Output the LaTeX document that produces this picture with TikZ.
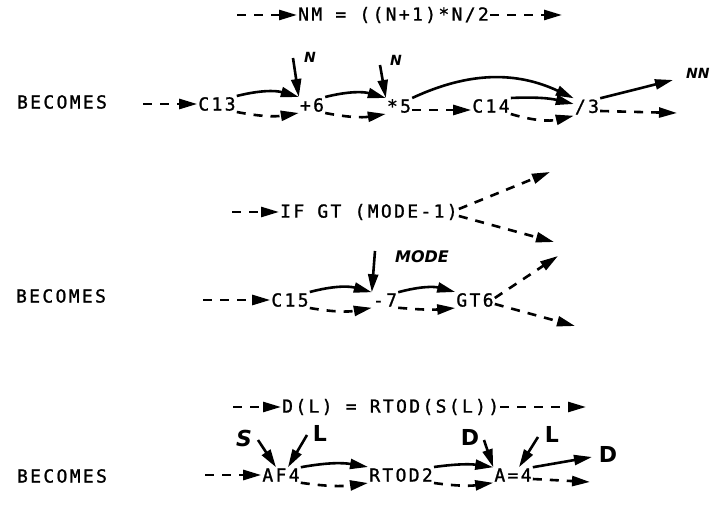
\documentclass[tikz,border=0pt]{standalone}
\usepackage{fontspec}
\newfontfamily\plot[LetterSpace=13,FakeBold=1.2]{DejaVu Sans Mono}
\newfontfamily\hand{DejaVu Sans}
\usetikzlibrary{arrows.meta}
\tikzset{
  txt/.style={font=\plot\fontsize{18}{18}\selectfont, inner sep=1pt},
  hw/.style={font=\hand\bfseries\fontsize{22}{22}\selectfont, inner sep=0pt},
  hwi/.style={font=\hand\bfseries\itshape\fontsize{22}{22}\selectfont, inner sep=0pt},
  hwm/.style={font=\hand\bfseries\itshape\fontsize{16}{16}\selectfont, inner sep=0pt},
  hws/.style={font=\hand\bfseries\itshape\fontsize{14}{14}\selectfont, inner sep=0pt},
  sol/.style={line width=2.6pt, -{Triangle[length=18pt,width=10pt]}},
  dsh/.style={sol, dash pattern=on 9pt off 8pt},
}
\begin{document}
\begin{tikzpicture}[x=1pt,y=1pt]
\useasboundingbox (0,0) rectangle (718,509);
% ---------- statement 1
\coordinate (a1) at (237,494);
\node[txt,anchor=west] (t1) at (297,494) {NM = ((N+1)*N/2};
\coordinate (b1) at (562,494);
\draw[dsh] (a1) -- (t1.west);
\draw[dsh] (t1.east) -- (b1);
% ---------- becomes 1
\node[txt] (be1) at (62,407) {BECOMES};
\coordinate (r1) at (143,405);
\node[txt] (c13) at (217,405) {C13};
\node[txt] (p6) at (312,404) {+6};
\node[txt] (s5) at (399,403) {*5};
\node[txt] (c14) at (491,403) {C14};
\node[txt] (d3) at (587,402) {/3};
\node[hws] (n1) at (310,452) {N};
\node[hws] (n2) at (396,449) {N};
\node[hws,anchor=west] (nn) at (686,436) {NN};
\coordinate (n1a) at (293,451);
\coordinate (n2a) at (380,444);
\coordinate (nnA) at (673,429);
\coordinate (d3o) at (677,396);
\draw[dsh] (r1) -- (c13.west);
\draw[sol] (c13.north east) to[bend left=15] (p6.north west);
\draw[dsh] (c13.south east) to[bend right=10] (p6.south west);
\draw[sol] (n1a) -- (p6.north west);
\draw[sol] (p6.north east) to[bend left=15] (s5.north west);
\draw[dsh] (p6.south east) to[bend right=10] (s5.south west);
\draw[sol] (n2a) -- (s5.north west);
\draw[sol] (s5.north east) to[bend left=25] (d3.north west);
\draw[dsh] ([yshift=-4pt]s5.east) -- ([yshift=-4pt]c14.west);
\draw[sol] (c14.north east) to[bend left=8] ([yshift=3pt]d3.west);
\draw[dsh] (c14.south east) to[bend right=15] (d3.south west);
\draw[sol] (d3.north east) -- (nnA);
\draw[dsh] ([yshift=-4pt]d3.east) -- (d3o);
% ---------- statement 2
\coordinate (a2) at (232,297);
\node[txt,anchor=west] (t2) at (279,297) {IF GT (MODE-1)};
\coordinate (u2) at (550,337);
\coordinate (l2) at (554,267);
\draw[dsh] (a2) -- (t2.west);
\draw[dsh] ([yshift=3pt]t2.east) -- (u2);
\draw[dsh] ([yshift=-4pt]t2.east) -- (l2);
% ---------- becomes 2
\node[txt] (be2) at (61,213) {BECOMES};
\coordinate (r2) at (203,209);
\node[txt] (c15) at (290,209) {C15};
\node[txt] (m7) at (385,209) {-7};
\node[txt] (gt6) at (475,209) {GT6};
\node[hwm] (mode) at (422,252) {MODE};
\coordinate (ma) at (375,258);
\coordinate (gu) at (558,253);
\coordinate (gd) at (575,183);
\draw[dsh] (r2) -- (c15.west);
\draw[sol] (c15.north east) to[bend left=15] (m7.north west);
\draw[dsh] (c15.south east) to[bend right=10] (m7.south west);
\draw[sol] (ma) -- (m7.north west);
\draw[sol] (m7.north east) to[bend left=15] (gt6.north west);
\draw[dsh] (m7.south east) to[bend right=5] (gt6.south west);
\draw[dsh] ([yshift=2pt]gt6.east) -- (gu);
\draw[dsh] ([yshift=-4pt]gt6.east) -- (gd);
% ---------- statement 3
\coordinate (a3) at (233,102);
\node[txt,anchor=west] (t3) at (281,102) {D(L) = RTOD(S(L))};
\coordinate (b3) at (586,102);
\draw[dsh] (a3) -- (t3.west);
\draw[dsh] (t3.east) -- (b3);
% ---------- becomes 3
\node[txt] (be3) at (62,33) {BECOMES};
\coordinate (r3) at (205,34);
\node[txt] (af4) at (281,34) {AF4};
\node[txt] (rtod) at (401,34) {RTOD2};
\node[txt] (a4) at (513,34) {A=4};
\node[hwi] (S) at (244,71) {S};
\node[hw] (L1) at (320,76) {L};
\node[hw] (D1) at (470,72) {D};
\node[hw] (L2) at (552,75) {L};
\node[hw] (D2) at (608,55) {D};
\coordinate (sa) at (258,69);
\coordinate (l1a) at (307,74);
\coordinate (d1a) at (484,69);
\coordinate (l2a) at (538,72);
\coordinate (d2a) at (592,52);
\coordinate (a4o) at (590,27);
\draw[dsh] (r3) -- (af4.west);
\draw[sol] (sa) -- ([xshift=-5pt]af4.north);
\draw[sol] (l1a) -- ([xshift=7pt]af4.north);
\draw[sol] (af4.north east) to[bend left=10] (rtod.north west);
\draw[dsh] (af4.south east) to[bend right=8] (rtod.south west);
\draw[sol] (rtod.north east) to[bend left=8] (a4.north west);
\draw[dsh] (rtod.south east) to[bend right=8] (a4.south west);
\draw[sol] (d1a) -- (a4.north west);
\draw[sol] (l2a) -- ([xshift=6pt]a4.north);
\draw[sol] (a4.north east) -- (d2a);
\draw[dsh] ([yshift=-4pt]a4.east) -- (a4o);
\end{tikzpicture}
\end{document}
